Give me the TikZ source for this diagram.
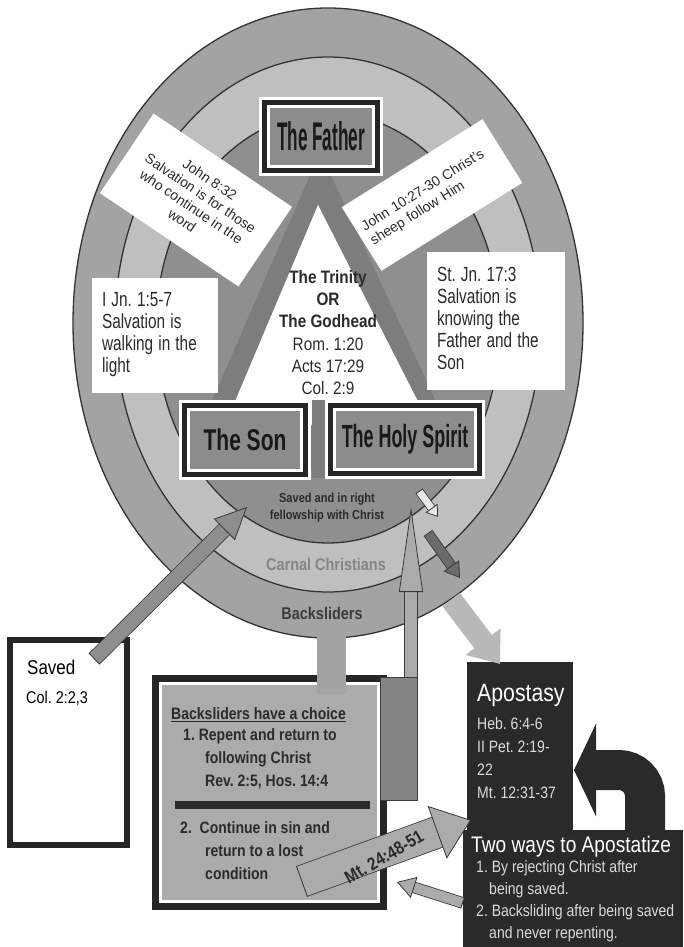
\documentclass[tikz,border=0pt]{standalone}
\usepackage{fontspec}
\usepackage{graphicx}
\setmainfont{Liberation Sans}
\newfontfamily\narrowfont[FakeStretch=0.85]{Liberation Sans}
\newcommand\slimlines[1]{\scalebox{0.75}[1]{\begin{tabular}{@{}l@{}}#1\end{tabular}}}
\usetikzlibrary{arrows.meta,shapes.geometric}
\definecolor{backgray}{HTML}{A3A3A3}
\definecolor{carnalgray}{HTML}{BFBFBF}
\definecolor{savedgray}{HTML}{8F8F8F}
\definecolor{ringline}{HTML}{333333}
\definecolor{bandgray}{HTML}{7D7D7D}
\definecolor{titlegray}{HTML}{8C8C8C}
\definecolor{inkgray}{HTML}{2B2B2B}
\definecolor{carnaltext}{HTML}{858585}
\definecolor{backtext}{HTML}{3C3C3C}
\definecolor{choicegray}{HTML}{ABABAB}
\definecolor{darkbox}{HTML}{2A2A2A}
\definecolor{palegray}{HTML}{DADADA}
\definecolor{shaftgray}{HTML}{8E8E8E}
\definecolor{shaftlight}{HTML}{ABABAB}
\definecolor{bargray}{HTML}{858585}
\definecolor{whitish}{HTML}{E8E8E8}
\definecolor{darkarrow}{HTML}{6B6B6B}
\definecolor{fallgray}{HTML}{B8B8B8}
\definecolor{arrowline}{HTML}{3A3A3A}
\begin{document}
\frenchspacing
\begin{tikzpicture}[x=1pt,y=-1pt,
  ring/.style={ellipse,draw=ringline,line width=1.3pt,inner sep=0pt},
  titlebox/.style={fill=titlegray,draw=white,line width=3pt,inner sep=0pt,text=black!90,
    preaction={draw=white,line width=19pt},preaction={draw=black!85,line width=13pt}},
  versebox/.style={fill=white,inner sep=0pt,font=\fontsize{20.5}{22}\selectfont,text=inkgray,align=left},
  tiltbox/.style={fill=white,inner sep=0pt,font=\fontsize{14}{16.5}\selectfont,text=inkgray},
  note/.style={inner sep=0pt,text=inkgray},
  blockarrow/.style n args={4}{draw=#1,line width=#2,shorten <=1pt,
    -{Triangle[width=#3,length=#4,fill=#1,color=arrowline,line width=0.8pt]},
    preaction={draw=arrowline,line width=#2+1.6pt,arrows=-,shorten <=0pt,shorten >=#4-1pt}},
  fallarrow/.style={draw=fallgray,line width=22pt,-{Triangle[width=42pt,length=28pt]}},
  turnarrow/.style={draw=darkbox,line width=40pt,rounded corners=26pt,-{Triangle[width=92pt,length=22pt]}}]
\useasboundingbox (0,0) rectangle (683,947);
\node[ring,fill=backgray,minimum width=510pt,minimum height=630pt] (backring) at (328,323) {};
\node[ring,fill=carnalgray,minimum width=426pt,minimum height=535pt] (carnalring) at (328,324.5) {};
\node[ring,fill=savedgray,minimum width=344pt,minimum height=430pt] (savedring) at (328,328) {};
\fill[bandgray] (320,152) -- (182,470) -- (468,470) -- cycle;
\fill[white] (318,205) -- (225,425) -- (430,425) -- cycle;
\fill[bandgray] (312,400) rectangle (326,478);
\node[tiltbox,rotate=-34,minimum width=167pt,minimum height=96pt,align=center] (john8) at (196,200) {John 8:32\\Salvation is for those\\who continue in the\\word};
\node[tiltbox,rotate=32,minimum width=166pt,minimum height=75pt,text width=152pt,align=left] (john10) at (432,195) {John 10:27-30 Christ's\\sheep follow Him};
\node[versebox,minimum width=126pt,minimum height=115pt,text width=106pt] (ijn) at (155,335.5) {\slimlines{I Jn. 1:5-7\\Salvation is\\walking in the\\light}};
\node[versebox,minimum width=138pt,minimum height=138pt,text width=118pt] (stjn) at (496,321) {\slimlines{St. Jn. 17:3\\Salvation is\\knowing the\\Father and the\\Son}};
\node[titlebox,minimum width=105pt,minimum height=60pt,font=\bfseries\fontsize{40}{40}\selectfont] (father) at (321,136.5) {\scalebox{0.43}[1]{The Father}};
\node[titlebox,minimum width=113pt,minimum height=61pt,font=\bfseries\fontsize{30}{30}\selectfont] (son) at (245,440) {\scalebox{0.7}[1]{The Son}};
\node[titlebox,minimum width=141pt,minimum height=60pt,font=\bfseries\fontsize{32}{32}\selectfont] (spirit) at (405,439.5) {\scalebox{0.56}[1]{The Holy Spirit}};
\node[note,align=center,font=\narrowfont\fontsize{18}{22.2}\selectfont] (godhead) at (328,332.5) {{\bfseries The Trinity}\\{\bfseries OR}\\{\bfseries The Godhead}\\Rom. 1:20\\Acts 17:29\\Col. 2:9};
\node[note,align=center,font=\narrowfont\bfseries\fontsize{13}{17}\selectfont] (fellowtext) at (327,508) {Saved and in right\\fellowship with Christ};
\node[note,text=carnaltext,font=\narrowfont\bfseries\fontsize{17}{17}\selectfont] (carnaltext) at (326,564) {Carnal Christians};
\node[note,text=backtext,font=\narrowfont\bfseries\fontsize{17}{17}\selectfont] (backtext) at (322,613) {Backsliders};
\node[fill=white,draw=black!85,line width=6pt,minimum width=117pt,minimum height=205pt,inner sep=0pt] (saved) at (68.5,742.5) {};
\node[note,anchor=west,text=black,font=\narrowfont\fontsize{20}{20}\selectfont] (savedtext) at (27,667) {Saved};
\node[note,anchor=west,text=black,font=\narrowfont\fontsize{17}{17}\selectfont] (savedref) at (26,698) {Col. 2:2,3};
\node[fill=choicegray,draw=white,line width=3pt,inner sep=0pt,minimum width=218pt,minimum height=218pt,
  preaction={draw=black!85,line width=17pt}] (choice) at (269.5,792.5) {};
\node[note,anchor=west,font=\narrowfont\bfseries\fontsize{16.5}{22}\selectfont] (choicehead) at (171,715) {\underline{Backsliders have a choice}};
\node[note,anchor=west,align=left,font=\narrowfont\bfseries\fontsize{16.5}{23}\selectfont] (repent) at (183,759) {1. Repent and return to\\\hspace*{22pt}following Christ\\\hspace*{22pt}Rev. 2:5, Hos. 14:4};
\fill[inkgray] (175,801) rectangle (370,809);
\node[note,anchor=west,align=left,font=\narrowfont\bfseries\fontsize{16.5}{23}\selectfont] (continue) at (180,851) {2.~~Continue in sin and\\\hspace*{25pt}return to a lost\\\hspace*{25pt}condition};
\node[fill=darkbox,inner sep=0pt,minimum width=106pt,minimum height=173pt] (apostasy) at (520,748.5) {};
\node[fill=darkbox,inner sep=0pt,minimum width=220pt,minimum height=117pt] (twoways) at (573,888.5) {};
\coordinate (turnstart) at (645,834);
\coordinate (turntip) at (574,770);
\draw[turnarrow] (turnstart) |- (turntip);
\node[note,anchor=west,text=white,font=\narrowfont\fontsize{25}{25}\selectfont] (aposhead) at (477,695) {Apostasy};
\node[note,anchor=west,align=left,text=palegray,font=\narrowfont\fontsize{16.5}{23}\selectfont] (aposrefs) at (477,758) {Heb. 6:4-6\\II Pet. 2:19-\\22\\Mt. 12:31-37};
\node[note,anchor=west,text=white,font=\narrowfont\fontsize{22.5}{22.5}\selectfont] (twohead) at (471,847) {Two ways to Apostatize};
\node[note,anchor=west,align=left,text=palegray,font=\narrowfont\fontsize{16.5}{22}\selectfont] (twolist) at (476,901) {1. By rejecting Christ after\\\hspace*{13pt}being saved.\\2. Backsliding after being saved\\\hspace*{13pt}and never repenting.};
\fill[backgray] (317,632) rectangle (346,694);
\coordinate (savedtail) at (94,659);
\coordinate (savedtip) at (247,507);
\draw[blockarrow={shaftgray}{14pt}{30pt}{32pt}] (savedtail) -- (savedtip);
\coordinate (returntail) at (411,700);
\coordinate (returntip) at (411,507);
\draw[blockarrow={shaftlight}{12pt}{24pt}{85pt}] (returntail) -- (returntip);
\node[fill=bargray,draw=arrowline,line width=0.8pt,inner sep=0pt,minimum width=37pt,minimum height=123pt] (returnbar) at (398.5,738.5) {};
\coordinate (slipstart) at (419,491);
\coordinate (slipend) at (438,517);
\draw[blockarrow={whitish}{7pt}{15pt}{11pt}] (slipstart) -- (slipend);
\coordinate (dropstart) at (428,533);
\coordinate (dropend) at (460,578);
\draw[blockarrow={darkarrow}{9pt}{19pt}{15pt}] (dropstart) -- (dropend);
\coordinate (falltip) at (500,664);
\draw[fallarrow] (backring.-66) -- (falltip);
\coordinate (mttail) at (301.5,881.5);
\coordinate (mttip) at (471,820);
\draw[blockarrow={shaftlight}{31pt}{56pt}{36pt}] (mttail) -- (mttip);
\node[note,rotate=30,font=\narrowfont\bfseries\fontsize{18}{18}\selectfont] (mtlabel) at (384,857) {Mt. 24:48-51};
\coordinate (backtail) at (463,903);
\coordinate (backtip) at (397,882);
\draw[blockarrow={shaftlight}{10pt}{22pt}{18pt}] (backtail) -- (backtip);
\end{tikzpicture}
\end{document}
